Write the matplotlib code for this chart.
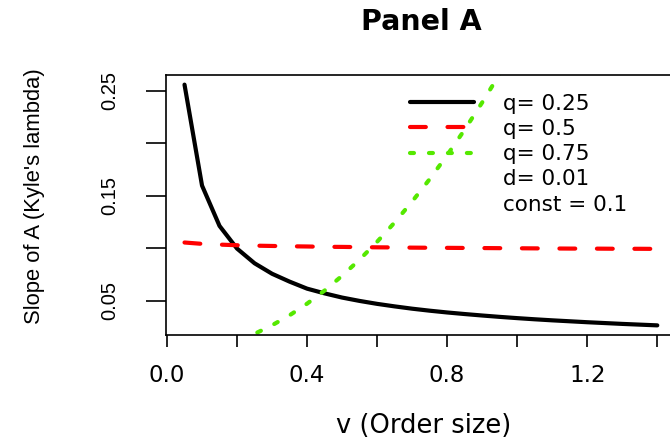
import matplotlib
matplotlib.use("Agg")
import matplotlib.pyplot as plt
from matplotlib.lines import Line2D
from matplotlib import font_manager

# ---------------- data ----------------
v = [0.05, 0.10, 0.15, 0.20, 0.25, 0.30, 0.35, 0.40, 0.45, 0.50,
     0.55, 0.60, 0.65, 0.70, 0.75, 0.80, 0.85, 0.90, 0.95, 1.00,
     1.05, 1.10, 1.15, 1.20, 1.25, 1.30, 1.35, 1.40]

slope_q025 = [0.2560, 0.1598, 0.1213, 0.0997, 0.0857, 0.0757, 0.0682, 0.0615,
              0.0570, 0.0530, 0.0498, 0.0470, 0.0446, 0.0424, 0.0405, 0.0388,
              0.0373, 0.0359, 0.0346, 0.0334, 0.0323, 0.0313, 0.0304, 0.0295,
              0.0287, 0.0279, 0.0272, 0.0265]

slope_q050 = [0.1055, 0.1042, 0.1035, 0.1029, 0.1025, 0.1022, 0.1019, 0.1017,
              0.1014, 0.1013, 0.1011, 0.1009, 0.1008, 0.1006, 0.1005, 0.1004,
              0.1003, 0.1002, 0.1001, 0.1000, 0.0999, 0.0998, 0.0997, 0.0997,
              0.0996, 0.0995, 0.0995, 0.0994]

slope_q075 = [0.0007, 0.0030, 0.0066, 0.0118, 0.0184, 0.0266, 0.0361, 0.0472,
              0.0597, 0.0738, 0.0892, 0.1062, 0.1246, 0.1446, 0.1659, 0.1888,
              0.2131, 0.2390, 0.2662, 0.2950, 0.3252, 0.3570, 0.3901, 0.4248,
              0.4609, 0.4986, 0.5376, 0.5782]

x_ticks = [0.0, 0.2, 0.4, 0.6, 0.8, 1.0, 1.2, 1.4]
x_tick_labels = ["0.0", "", "0.4", "", "0.8", "", "1.2", ""]
y_ticks = [0.05, 0.10, 0.15, 0.20, 0.25]
y_tick_labels = ["0.05", "", "0.15", "", "0.25"]

legend_labels = ["q= 0.25", "q= 0.5", "q= 0.75", "d= 0.01", "const = 0.1"]
title_text = "Panel A"
x_label = "v (Order size)"
y_label = "Slope of A (Kyle's lambda)"

# ---------------- style ----------------
names = {f.name for f in font_manager.fontManager.ttflist}
has_narrow = "Liberation Sans Narrow" in names
narrow = "Liberation Sans Narrow" if has_narrow else "Liberation Sans"
wide = "DejaVu Sans"
green = "#55E800"

W, H = 670, 438
fig = plt.figure(figsize=(W / 100, H / 100), dpi=100)
ax_left, ax_right, ax_top, ax_bottom = 165.6, 676.2, 75, 335
ax = fig.add_axes([ax_left / W, 1 - ax_bottom / H, (ax_right - ax_left) / W, (ax_bottom - ax_top) / H])

l1, = ax.plot(v, slope_q025, color="black", lw=3, solid_capstyle="round", solid_joinstyle="round")
l2, = ax.plot(v, slope_q050, color="red", lw=3, linestyle=(0, (3.8, 5.2)), dash_capstyle="round")
l3, = ax.plot(v, slope_q075, color=green, lw=3, linestyle=(0, (0.95, 3.6)), dash_capstyle="round")

# R-style 4% padding around the data range
xpad = 0.04 * (max(v) - min(v))
ax.set_xlim(min(v) - xpad, max(v) + xpad)
ypad = 0.04 * (max(slope_q025) - min(slope_q025))
ax.set_ylim(min(slope_q025) - ypad, max(slope_q025) + ypad)

ax.set_xticks(x_ticks, x_tick_labels)
ax.set_yticks(y_ticks, y_tick_labels)
ax.tick_params(axis="x", length=8.6, width=1.2, pad=12, labelsize=16.5)
ax.tick_params(axis="y", length=14.4, width=1.2, pad=19, labelsize=15.5 if has_narrow else 14.5)
for t in ax.get_xticklabels():
    t.set_fontfamily(wide)
for t in ax.get_yticklabels():
    t.set_fontfamily(narrow)
    t.set_rotation(90)
    t.set_va("center")
for s in ax.spines.values():
    s.set_linewidth(1.2)

blank = Line2D([], [], linestyle="none")
leg = ax.legend([l1, l2, l3, blank, blank], legend_labels,
                loc="upper left", bbox_to_anchor=(410 / W, 1 - 93.5 / H),
                bbox_transform=fig.transFigure, frameon=False,
                borderpad=0, borderaxespad=0, handlelength=2.95,
                handletextpad=1.35, labelspacing=0.245,
                prop={"family": wide, "size": 15.5})

fig.text(421 / W, 1 - 22.5 / H, title_text, ha="center", va="center",
         fontsize=20.5, fontweight="bold", family=wide)
fig.text(424 / W, 1 - 426 / H, x_label, ha="center", va="center",
         fontsize=18.5, family=wide)
fig.text(35 / W, 1 - 196 / H, y_label, ha="center", va="center",
         rotation=90, fontsize=19 if has_narrow else 15.8, family=narrow)

fig.savefig("out.png", dpi=100)
